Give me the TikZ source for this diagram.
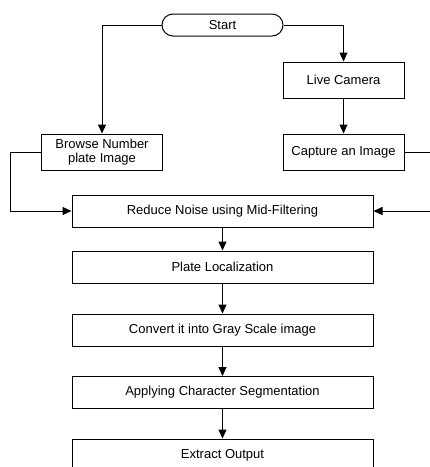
\documentclass[tikz,border=0pt]{standalone}
\usepackage{fontspec}
\setmainfont{Liberation Sans}
\usetikzlibrary{arrows,arrows.meta,shapes}
\tikzstyle{process}=[rectangle,draw,line width=1pt,inner sep=0pt,align=center,font=\fontsize{13}{14}\selectfont]
\tikzstyle{terminal}=[rounded rectangle,draw,line width=1pt,inner sep=0pt,minimum width=121pt,minimum height=22pt,font=\fontsize{13}{14}\selectfont]
\tikzstyle{edge} = [draw,line width=1pt,-{Triangle[length=9pt,width=8pt]}]
\begin{document}
\begin{tikzpicture}[x=1pt,y=-1pt]
    \useasboundingbox (0,0) rectangle (430,467);
    \clip (0,0) rectangle (430,467);
    % start and the two input boxes
    \node[terminal] (start) at (222.5,25) {Start};
    \foreach \pos/ \name/ \text in {{(343.5,80)/live/Live Camera},{(343.5,152)/capture/Capture an Image},{(102,152)/browse/Browse Number\\plate Image}}
        \node[process,minimum width=121pt,minimum height=36pt] (\name) at \pos {\text};

    % the main chain of steps
    \foreach \pos/ \name/ \text in {{(222.5,211)/reduce/Reduce Noise using Mid-Filtering},{(222.5,267)/plate/Plate Localization},{(222.5,330)/convert/Convert it into Gray Scale image},{(222.5,392.5)/segment/Applying Character Segmentation},{(222.5,455)/extract/Extract Output}}
        \node[process,minimum width=301pt,minimum height=32pt] (\name) at \pos {\text};

    % connect them
    \path[edge] (start.west) -| (browse.north);
    \path[edge] (start.east) -| (live.north);
    \path[edge] (live) -- (capture);
    \path[edge] (browse.west) -- ++(-31,0) |- (reduce.west);
    \path[edge] (capture.east) -- ++(40,0) |- (reduce.east);
    \foreach \source/ \dest in {reduce/plate, plate/convert, convert/segment, segment/extract}
        \path[edge] (\source) -- (\dest);
\end{tikzpicture}
\end{document}
